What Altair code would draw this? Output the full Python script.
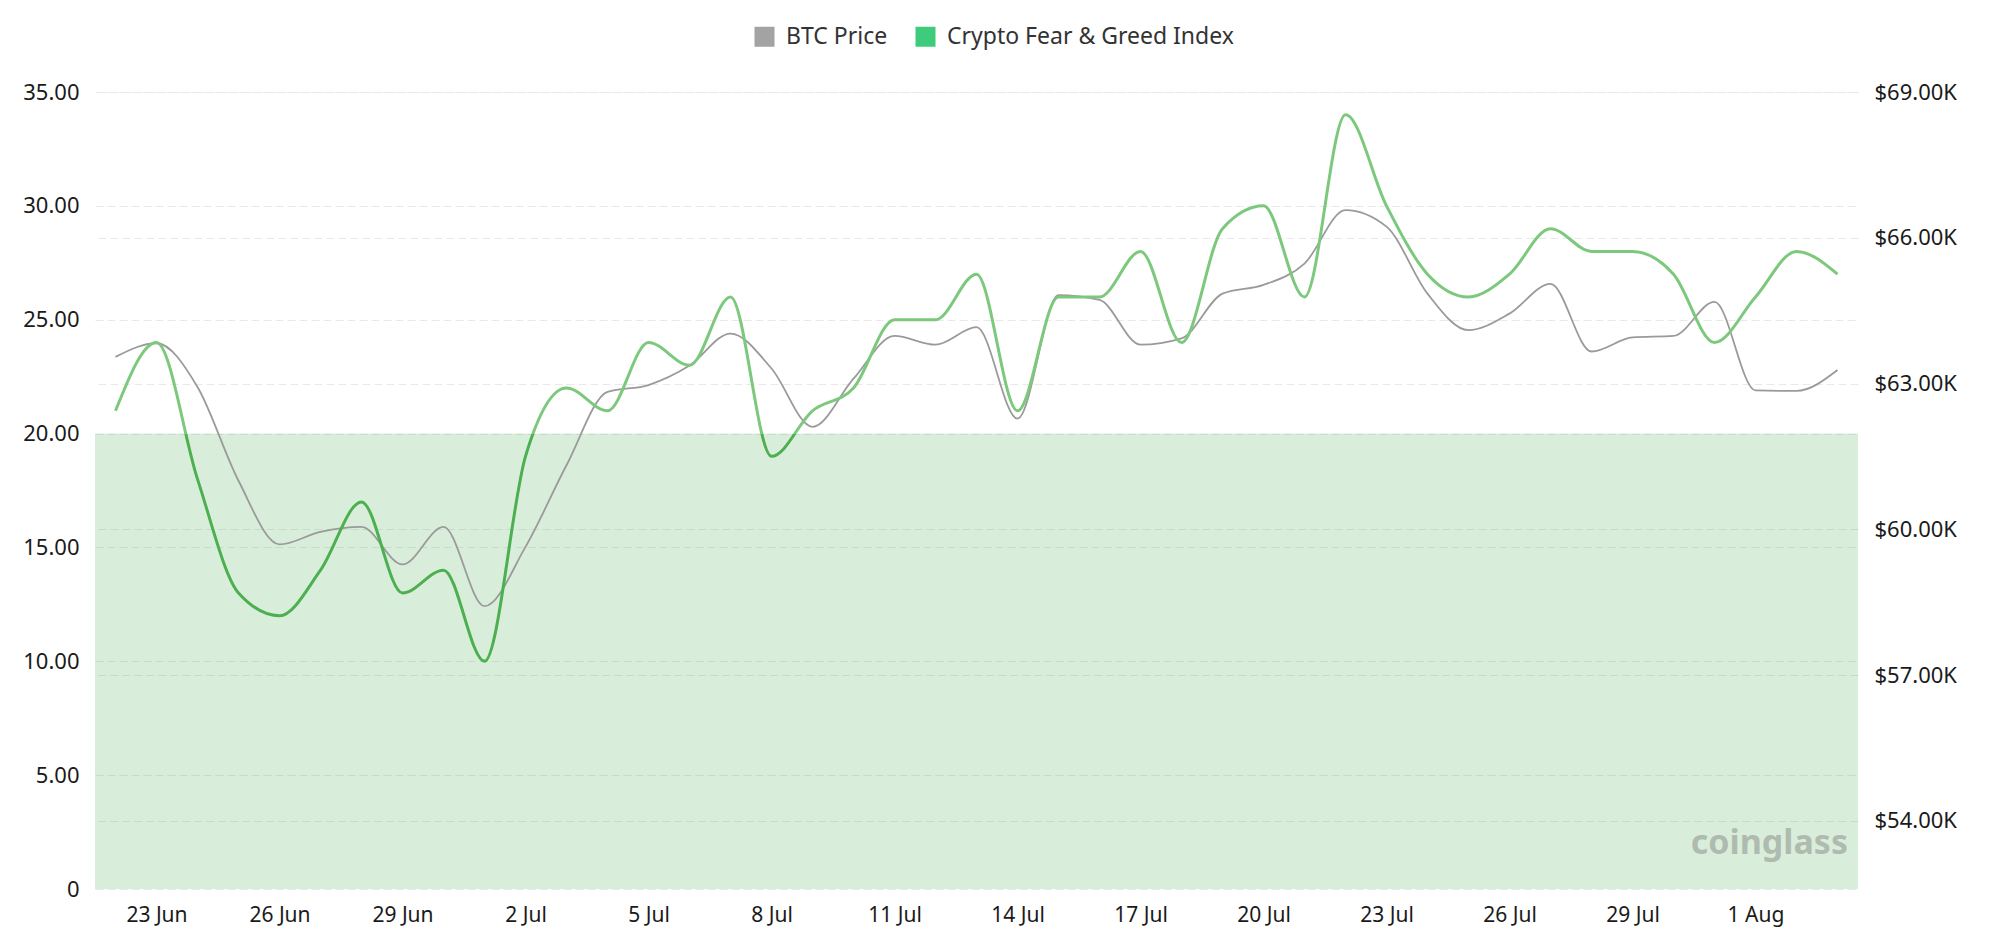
import json
import pandas as pd
import altair as alt

# ---------------- data ----------------
dates = pd.date_range("2024-06-22", "2024-08-03", freq="D").strftime("%Y-%m-%d").tolist()

fear_greed = [21, 24, 18, 13, 12, 14, 17, 13, 14, 10,
              19, 22, 21, 24, 23, 26, 19, 21, 22, 25,
              25, 27, 21, 26, 26, 28, 24, 29, 30, 26,
              34, 30, 27, 26, 27, 29, 28, 28, 27, 24,
              26, 28, 27]

btc_price = [63550, 63830, 62930, 61000, 59690, 59950, 60050, 59280, 60050, 58420,
             59640, 61320, 62830, 62970, 63370, 64030, 63310, 62110, 63100, 63980,
             63800, 64160, 62280, 64820, 64720, 63800, 63930, 64850, 65030, 65470,
             66570, 66230, 64850, 64100, 64440, 65050, 63660, 63950, 63980, 64680,
             62860, 62850, 63280]

series_names = ["BTC Price", "Crypto Fear & Greed Index"]
legend_colors = ["#a3a3a3", "#3ecc7c"]

x_tick_values = [1, 4, 7, 10, 13, 16, 19, 22, 25, 28, 31, 34, 37, 40]
x_tick_labels = ["23 Jun", "26 Jun", "29 Jun", "2 Jul", "5 Jul", "8 Jul", "11 Jul",
                 "14 Jul", "17 Jul", "20 Jul", "23 Jul", "26 Jul", "29 Jul", "1 Aug"]

left_ticks = [0, 5, 10, 15, 20, 25, 30, 35]
left_domain = [0, 35]
right_ticks = [54000, 57000, 60000, 63000, 66000, 69000]
right_domain = [52600, 69000]

fear_zone = [0, 20]   # "fear" band shaded on the chart

# ---------------- layout / style ----------------
W, H = 1763, 797
FONT = "Noto Sans"
LIGHT_GREEN = "#7cc87c"
DARK_GREEN = "#4caf50"

df = pd.DataFrame({
    "day": list(range(len(dates))),
    "date": dates,
    "fear": fear_greed,
    "btc": btc_price,
})

x_enc = alt.X(
    "day:Q",
    scale=alt.Scale(domain=[-0.5, len(dates) - 0.5], nice=False, zero=False),
    axis=alt.Axis(
        values=x_tick_values,
        labelExpr=f"{json.dumps(x_tick_labels)}[indexof({json.dumps(x_tick_values)}, datum.value)]",
        grid=False, domain=False, ticks=False, title=None,
        labelFontSize=21, labelFont=FONT, labelColor="#1a1a1a", labelPadding=15,
    ),
)

# shaded fear zone (0..20)
zone = alt.Chart(pd.DataFrame({"lo": [fear_zone[0]], "hi": [fear_zone[1]]})).mark_rect(
    color=DARK_GREEN, opacity=0.21
).encode(
    x=alt.value(0),
    x2=alt.value(W),
    y=alt.Y("lo:Q", scale=alt.Scale(domain=left_domain, nice=False), axis=None),
    y2="hi:Q",
)

# BTC price line (right axis)
btc_line = alt.Chart(df).mark_line(
    interpolate="monotone", color="#9a9a9a", strokeWidth=1.8
).encode(
    x=x_enc,
    y=alt.Y(
        "btc:Q",
        scale=alt.Scale(domain=right_domain, nice=False, zero=False),
        axis=alt.Axis(
            orient="right", values=right_ticks, title=None,
            labelExpr="'$' + format(datum.value / 1000, '.2f') + 'K'",
            grid=True, gridColor="#e9e9e9", gridDash=[8, 4], gridWidth=1.2,
            domain=False, ticks=False,
            labelFontSize=22, labelFont=FONT, labelColor="#1a1a1a", labelPadding=16,
        ),
    ),
)

# Fear & Greed line (left axis), darker where below 20
fmax, fmin = max(fear_greed), min(fear_greed)
split = (fmax - fear_zone[1]) / (fmax - fmin)
grad = alt.Gradient(
    gradient="linear", x1=0, y1=0, x2=0, y2=1,
    stops=[
        alt.GradientStop(offset=0, color=LIGHT_GREEN),
        alt.GradientStop(offset=split, color=LIGHT_GREEN),
        alt.GradientStop(offset=split, color=DARK_GREEN),
        alt.GradientStop(offset=1, color=DARK_GREEN),
    ],
)
fear_line = alt.Chart(df).mark_line(
    interpolate="monotone", stroke=grad, strokeWidth=3
).encode(
    x=x_enc,
    y=alt.Y(
        "fear:Q",
        scale=alt.Scale(domain=left_domain, nice=False),
        axis=alt.Axis(
            orient="left", values=left_ticks, title=None,
            labelExpr="datum.value == 0 ? '0' : format(datum.value, '.2f')",
            grid=True, gridColor="#e9e9e9", gridDash=[8, 4], gridWidth=1.2,
            domain=False, ticks=False,
            labelFontSize=22, labelFont=FONT, labelColor="#1a1a1a", labelPadding=16,
        ),
    ),
)

# legend (invisible carrier layer)
legend_layer = alt.Chart(pd.DataFrame({"series": series_names})).mark_square(opacity=0).encode(
    color=alt.Color(
        "series:N",
        scale=alt.Scale(domain=series_names, range=legend_colors),
        legend=alt.Legend(
            orient="none", legendX=658, legendY=-67, direction="horizontal",
            title=None, symbolType="square", symbolSize=400, symbolStrokeWidth=0,
            symbolOpacity=1, labelFontSize=23, labelFont=FONT, labelColor="#333333",
            labelOffset=10, columnPadding=26, labelLimit=600, padding=0,
        ),
    ),
)

# watermark
watermark = alt.Chart(pd.DataFrame({"t": ["coinglass"]})).mark_text(
    align="right", baseline="middle", fontSize=34, fontWeight="bold",
    font=FONT, color="#a3aaa3", opacity=0.75
).encode(
    text="t:N",
    x=alt.value(W - 10),
    y=alt.value(H - 45),
)

chart = alt.layer(zone, btc_line, fear_line, watermark, legend_layer).resolve_scale(
    y="independent"
).properties(
    width=W, height=H,
    autosize=alt.AutoSizeParams(type="none"),
    padding={"left": 87, "top": 84, "right": 115, "bottom": 43},
).configure(
    font=FONT,
    view=alt.ViewConfig(stroke=None),
)

chart.save("out.html", embed_options={"renderer": "svg", "actions": False})
